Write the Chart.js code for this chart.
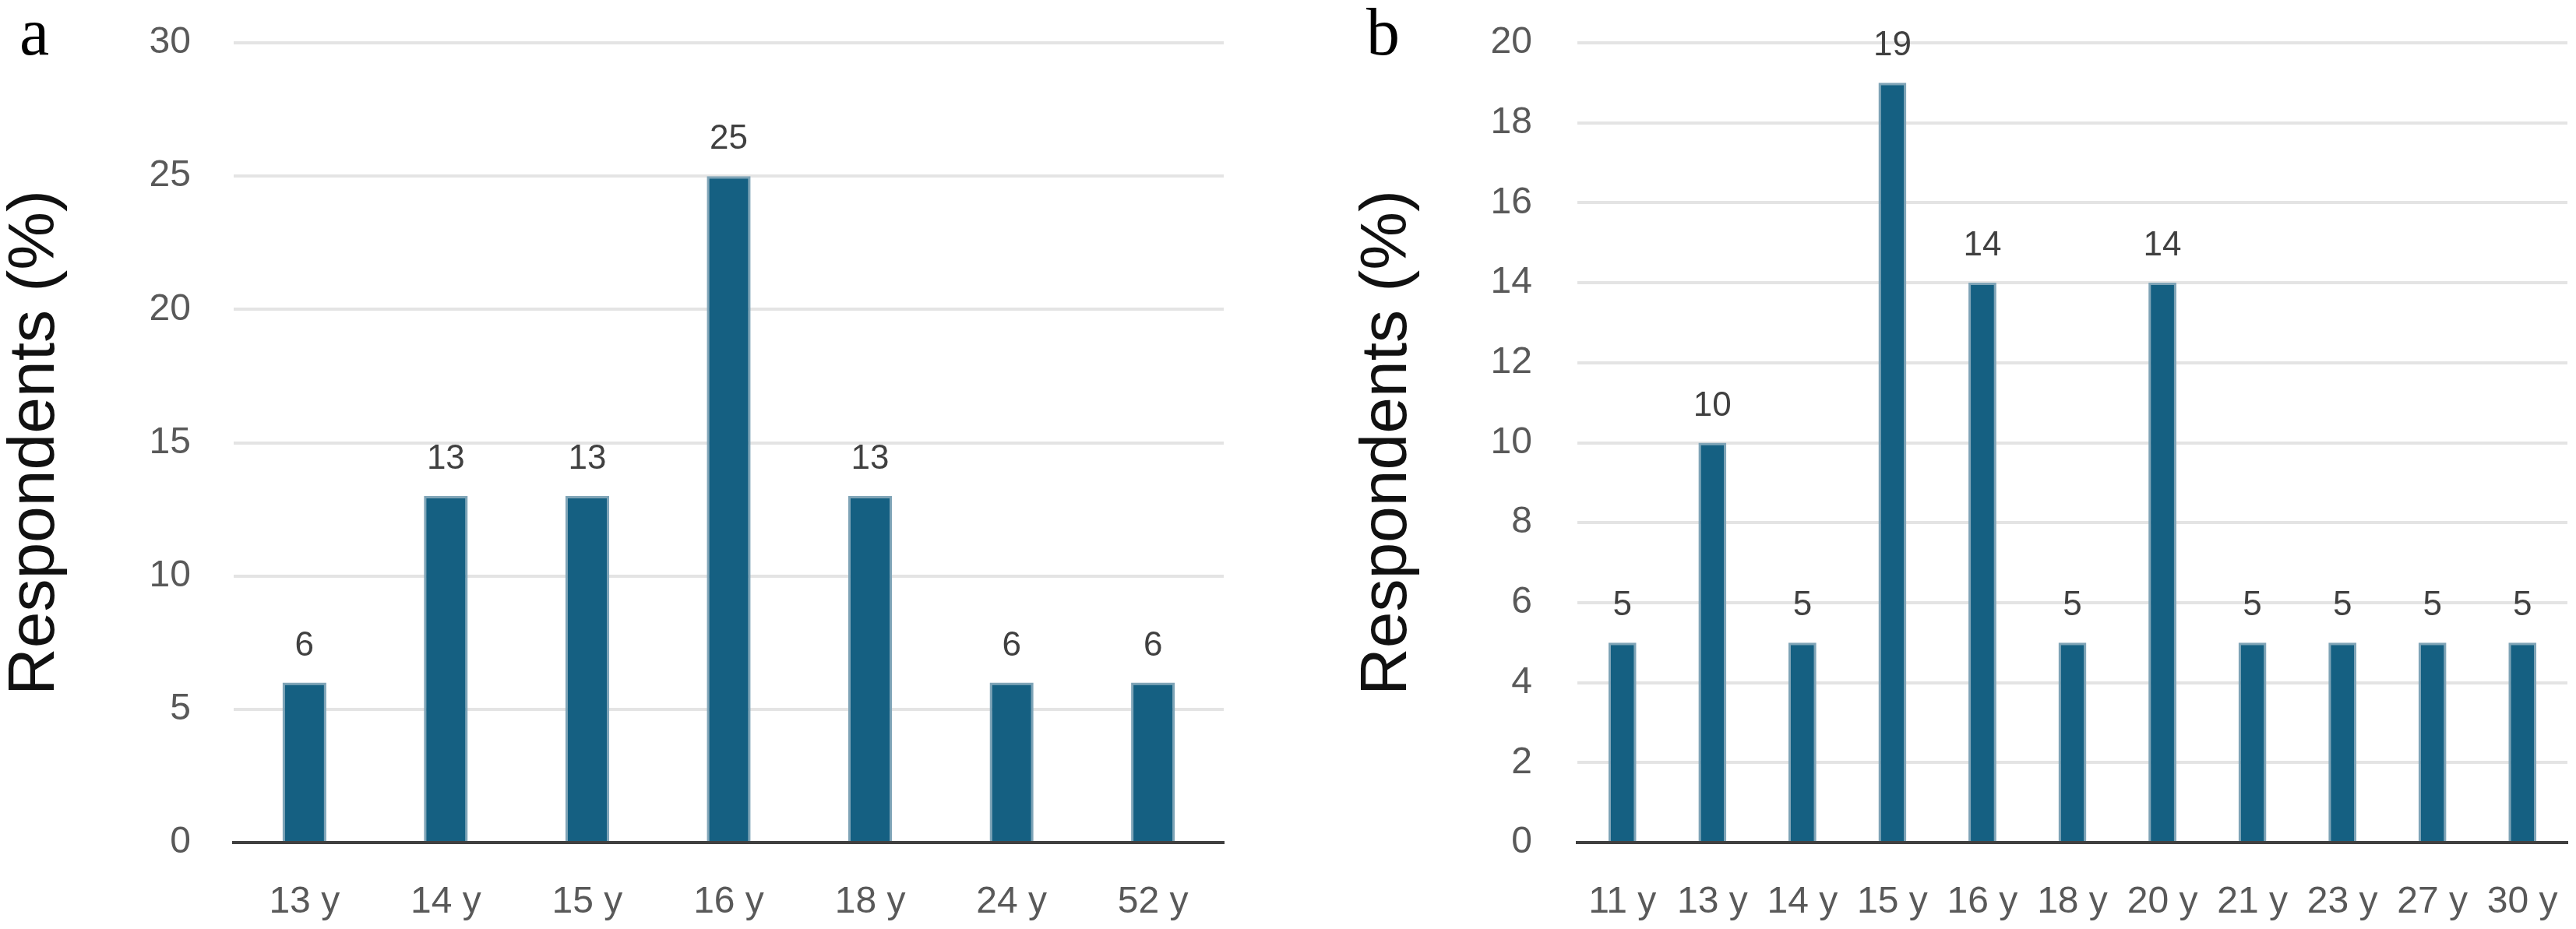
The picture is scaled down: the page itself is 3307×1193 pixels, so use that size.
<!DOCTYPE html>
<html>
<head>
<meta charset="utf-8">
<script src="https://cdn.jsdelivr.net/npm/chart.js@4.4.1/dist/chart.umd.min.js"></script>
<style>
  html, body { margin: 0; padding: 0; background: #fff; }
  body { width: 3307px; height: 1193px; position: relative; overflow: hidden; }
  .panel { position: absolute; top: 0; height: 1193px; }
  .tag { position: absolute; font-family: "Liberation Serif", "Times New Roman", serif;
         font-size: 86px; line-height: 86px; color: #000; }
</style>
</head>
<body>
<div class="tag" style="left:25px; top:-2px;">a</div>
<div class="tag" style="left:1754px; top:-2px;">b</div>
<div class="panel" style="left:0; width:1620px;"><canvas id="chartA"></canvas></div>
<div class="panel" style="left:1700px; width:1607px;"><canvas id="chartB"></canvas></div>
<script>
// panel a: respondents by age
var agesA = ['13 y', '14 y', '15 y', '16 y', '18 y', '24 y', '52 y']
var valuesA = [6, 13, 13, 25, 13, 6, 6]
var ticksA = { max: 30, step: 5 }

// panel b: respondents by age
var agesB = ['11 y', '13 y', '14 y', '15 y', '16 y', '18 y', '20 y', '21 y', '23 y', '27 y', '30 y']
var valuesB = [5, 10, 5, 19, 14, 5, 14, 5, 5, 5, 5]
var ticksB = { max: 20, step: 2 }

var FONT = "'Liberation Sans', Arial, sans-serif"
var BAR = '#156082'

// writes the value above each bar
var valueLabels = {
    id: 'valueLabels',
    afterDatasetsDraw(chart) {
        let ctx = chart.ctx
        ctx.save()
        ctx.font = '44px ' + FONT
        ctx.fillStyle = '#404040'
        ctx.textAlign = 'center'
        ctx.textBaseline = 'middle'
        chart.getDatasetMeta(0).data.forEach((bar, i) => {
            ctx.fillText(chart.data.datasets[0].data[i], bar.x, bar.y - 47)
        })
        ctx.restore()
    }
}

function makeChart(id, labels, values, ticks, box) {
    let ctx = document.getElementById(id).getContext('2d')
    return new Chart(ctx, {
        type: 'bar',
        data: {
            labels: labels,
            datasets: [{
                data: values,
                backgroundColor: BAR,
                borderColor: '#7fa4b7',
                borderWidth: { left: 3, right: 3, top: 3, bottom: 0 },
                categoryPercentage: 1,
                barPercentage: 0.31
            }]
        },
        options: {
            responsive: true,
            maintainAspectRatio: false,
            animation: false,
            devicePixelRatio: 1,
            layout: { padding: { left: box.padLeft, right: box.padRight, top: 55, bottom: 0 } },
            plugins: { legend: { display: false }, tooltip: { enabled: false } },
            scales: {
                x: {
                    grid: { display: false, drawTicks: false },
                    border: { display: true, color: '#404040', width: 4 },
                    ticks: {
                        font: { family: FONT, size: 48 }, color: '#595959',
                        padding: 48, maxRotation: 0, minRotation: 0, autoSkip: false
                    },
                    afterFit: (scale) => {
                        scale.height = 111
                        scale.paddingLeft = 0
                        scale.paddingRight = 0
                    }
                },
                y: {
                    min: 0,
                    max: ticks.max,
                    grid: { color: '#e4e4e4', lineWidth: 4, drawTicks: false },
                    border: { display: false },
                    ticks: {
                        stepSize: ticks.step,
                        font: { family: FONT, size: 48 }, color: '#595959',
                        padding: box.tickPad
                    },
                    title: {
                        display: true,
                        text: 'Respondents (%)',
                        font: { family: FONT, size: 84, lineHeight: 1.1 },
                        color: '#111111',
                        padding: { top: 0, bottom: 0 }
                    },
                    afterFit: (scale) => {
                        scale.width = box.yWidth
                        scale.paddingTop = 0
                        scale.paddingBottom = 0
                    }
                }
            }
        },
        plugins: [valueLabels]
    })
}

makeChart('chartA', agesA, valuesA, ticksA, { padLeft: 0, padRight: 49, yWidth: 300, tickPad: 55 })
makeChart('chartB', agesB, valuesB, ticksB, { padLeft: 36, padRight: 11, yWidth: 289, tickPad: 58 })
</script>
</body>
</html>
